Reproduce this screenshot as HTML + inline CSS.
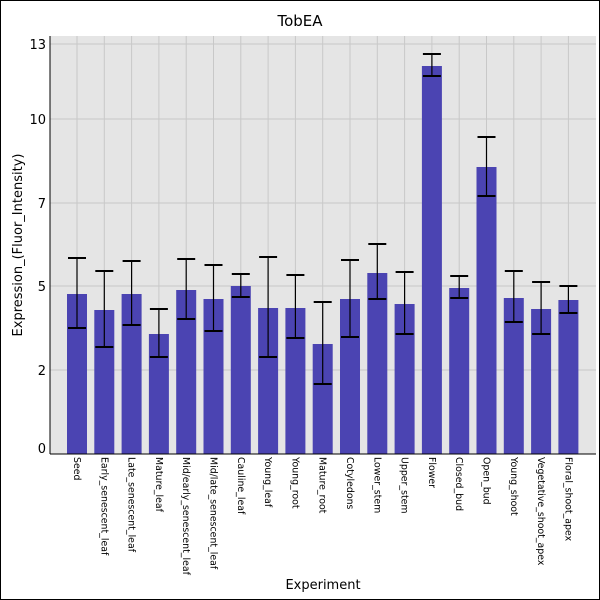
<!DOCTYPE html>
<html><head><meta charset="utf-8"><style>
html,body{margin:0;padding:0;background:#fff}
svg{display:block;font-family:"DejaVu Sans","Liberation Sans",sans-serif}
</style></head><body>
<svg width="600" height="600" viewBox="0 0 600 600" xmlns="http://www.w3.org/2000/svg">
<rect x="0.5" y="0.5" width="599" height="599" fill="#fff" stroke="#000"/>
<text x="300" y="26" font-size="15" text-anchor="middle">TobEA</text>
<rect x="50" y="36" width="546" height="418" fill="#e5e5e5"/>
<g stroke="#c8c8c8" stroke-width="1">
<line x1="50" x2="596" y1="44" y2="44"/><line x1="50" x2="596" y1="119" y2="119"/>
<line x1="50" x2="596" y1="203" y2="203"/><line x1="50" x2="596" y1="286" y2="286"/>
<line x1="50" x2="596" y1="370" y2="370"/>
</g>
<g id="vg" stroke="#c8c8c8" stroke-width="1"></g>
<g id="bars"></g>
<line x1="50" y1="36" x2="50" y2="454" stroke="#000"/>
<line x1="50" y1="454" x2="596" y2="454" stroke="#000"/>
<g font-size="13" text-anchor="end">
<text x="46" y="49">13</text><text x="46" y="124">10</text><text x="46" y="208">7</text>
<text x="46" y="291">5</text><text x="46" y="375">2</text><text x="46" y="453">0</text>
</g>
<text transform="translate(22,245) rotate(-90)" font-size="13" text-anchor="middle">Expression_(Fluor_Intensity)</text>
<text x="323" y="589" font-size="13" text-anchor="middle">Experiment</text>
<g id="labels" font-size="9.4"></g>
</svg>
<script>
var d=[["Seed",294,258,328],["Early_senescent_leaf",310,271,347],["Late_senescent_leaf",294,261,325],["Mature_leaf",334,309,357],["Mid/early_senescent_leaf",290,259,319],["Mid/late_senescent_leaf",299,265,331],["Cauline_leaf",286,274,297],["Young_leaf",308,257,357],["Young_root",308,275,338],["Mature_root",344,302,384],["Cotyledons",299,260,337],["Lower_stem",273,244,299],["Upper_stem",304,272,334],["Flower",66,54,76],["Closed_bud",288,276,298],["Open_bud",167,137,196],["Young_shoot",298,271,322],["Vegetative_shoot_apex",309,282,334],["Floral_shoot_apex",300,286,313]];
var ns="http://www.w3.org/2000/svg",vg=document.getElementById("vg"),b=document.getElementById("bars"),lb=document.getElementById("labels");
function el(p,t,a){var e=document.createElementNS(ns,t);for(var k in a)e.setAttribute(k,a[k]);p.appendChild(e);return e;}
d.forEach(function(r,i){var c=77+i*27.3;
el(vg,"line",{x1:c,x2:c,y1:36,y2:454});
el(b,"rect",{x:c-10,y:r[1],width:20,height:454-r[1],fill:"#4b44b2"});
el(b,"line",{x1:c,x2:c,y1:r[2],y2:r[3],stroke:"#000","stroke-width":1.2});
el(b,"line",{x1:c-9,x2:c+9,y1:r[2],y2:r[2],stroke:"#000","stroke-width":2});
el(b,"line",{x1:c-9,x2:c+9,y1:r[3],y2:r[3],stroke:"#000","stroke-width":2});
var t=el(lb,"text",{transform:"translate("+(c-3)+",457) rotate(90)"});t.textContent=r[0];});
</script>
</body></html>
